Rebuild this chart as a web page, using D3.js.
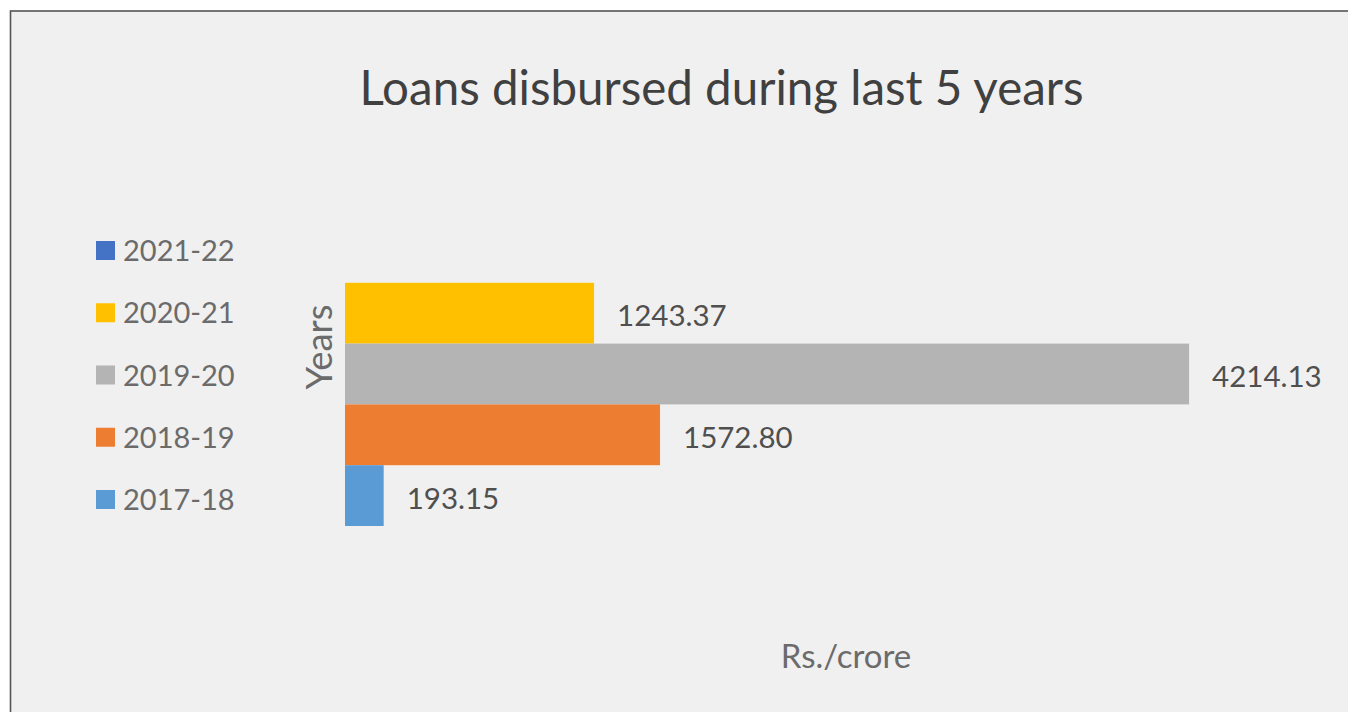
<!DOCTYPE html>
<html>
<head>
<meta charset="utf-8">
<script src="https://cdn.jsdelivr.net/npm/d3@7"></script>
<style>
  html, body { margin: 0; padding: 0; background: #ffffff; }
  svg { display: block; font-family: Lato, "Open Sans", sans-serif; }
</style>
</head>
<body>
<svg id="chart" width="1348" height="712"></svg>
<script>
// Financial years, listed top to bottom as in the legend
const years = ["2021-22", "2020-21", "2019-20", "2018-19", "2017-18"];
// Loans disbursed, Rs. crore (no figure for 2021-22)
const loans = [null, 1243.37, 4214.13, 1572.80, 193.15];
const colors = ["#4472c4", "#ffc000", "#b4b4b4", "#ed7d31", "#5b9bd5"];

const titleText = "Loans disbursed during last 5 years";
const xTitle = "Rs./crore";
const yTitle = "Years";

const rows = years.map((y, i) => ({ year: y, value: loans[i], color: colors[i] }));

const svg = d3.select("#chart");
const fmt = d3.format(".2f");

// chart area with its frame
svg.append("rect")
  .attr("x", 10.5).attr("y", 11)
  .attr("width", 1400).attr("height", 800)
  .attr("fill", "#f0f0f0")
  .attr("stroke", "#555555")
  .attr("stroke-width", 1.6);

const x = d3.scaleLinear().domain([0, 5000]).range([345, 1346.5]);
const y = d3.scaleBand().domain(years).range([222, 526]).padding(0);

// bars
svg.append("g").selectAll("rect")
  .data(rows.filter(d => d.value != null))
  .join("rect")
  .attr("x", x(0))
  .attr("y", d => y(d.year))
  .attr("width", d => x(d.value) - x(0))
  .attr("height", y.bandwidth())
  .attr("fill", d => d.color);

// value labels
svg.append("g").selectAll("text")
  .data(rows.filter(d => d.value != null))
  .join("text")
  .attr("x", d => x(d.value) + 23)
  .attr("y", d => y(d.year) + y.bandwidth() / 2 + 13)
  .attr("font-size", 29.5)
  .attr("fill", "#4f4f4f")
  .text(d => fmt(d.value));

// title
svg.append("text")
  .attr("x", 721.5).attr("y", 105)
  .attr("text-anchor", "middle")
  .attr("font-size", 47.5)
  .attr("fill", "#404040")
  .text(titleText);

// axis titles
svg.append("text")
  .attr("x", 846).attr("y", 668)
  .attr("text-anchor", "middle")
  .attr("font-size", 33)
  .attr("fill", "#6b6b6b")
  .text(xTitle);

svg.append("text")
  .attr("transform", "translate(332,347) rotate(-90)")
  .attr("text-anchor", "middle")
  .attr("font-size", 36.5)
  .attr("fill", "#6b6b6b")
  .text(yTitle);

// legend
const legend = svg.append("g").selectAll("g")
  .data(rows)
  .join("g")
  .attr("transform", (d, i) => `translate(96,${241 + i * 62.25})`);

legend.append("rect")
  .attr("width", 19).attr("height", 19)
  .attr("fill", d => d.color);

legend.append("text")
  .attr("x", 27).attr("y", 20)
  .attr("font-size", 29)
  .attr("fill", "#6b6b6b")
  .text(d => d.year);
</script>
</body>
</html>
